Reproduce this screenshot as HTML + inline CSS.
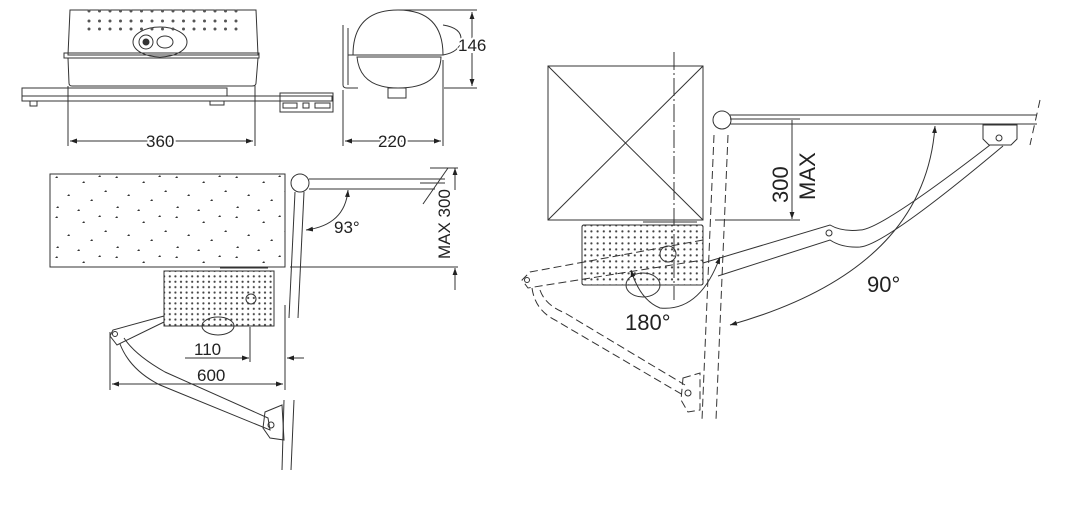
<!DOCTYPE html>
<html><head><meta charset="utf-8"><style>
html,body{margin:0;padding:0;background:#fff;}
svg{display:block;}
text{font-family:"Liberation Sans",sans-serif;fill:#222;}
</style></head><body>
<svg width="1066" height="513" viewBox="0 0 1066 513" xmlns="http://www.w3.org/2000/svg">
<defs>
<pattern id="dots" width="5.6" height="5.4" patternUnits="userSpaceOnUse" x="174" y="275">
<circle cx="1.4" cy="1.4" r="1.1" fill="#444"/></pattern>
<pattern id="dots2" width="6.2" height="6" patternUnits="userSpaceOnUse" x="590" y="230">
<circle cx="1.4" cy="1.4" r="1.1" fill="#444"/></pattern>
<pattern id="stucco" width="60" height="40" patternUnits="userSpaceOnUse" x="50" y="174">
<g fill="#333"><path d="M5,4 l2,-2 l1,2z"/><path d="M32,9 l2,-2 l1,2z"/><path d="M48,3 l2,-2 l1,2z"/><path d="M17,22 l2,-2 l1,2z"/><path d="M40,27 l2,-2 l1,2z"/><path d="M54,18 l2,-2 l1,2z"/><path d="M6,34 l2,-2 l1,2z"/><path d="M27,37 l2,-2 l1,2z"/></g></pattern>
<marker id="ar" viewBox="0 0 10 10" refX="10" refY="5" markerWidth="7" markerHeight="7" orient="auto-start-reverse"><path d="M0,1.5 L10,5 L0,8.5z" fill="#222"/></marker>
</defs>
<g fill="none" stroke="#333" stroke-width="1">
<!-- top view -->
<path d="M70,10 L256,10 L258,55 L68,55 Z" />
<rect x="64" y="53" width="195" height="5"/>
<path d="M68,58 L258,58 L256,83 Q256,86 252,86 L72,86 Q69,86 69,83 Z"/>
<ellipse cx="160" cy="42" rx="27" ry="15"/>
<circle cx="146" cy="42" r="7"/><circle cx="146" cy="42" r="3" fill="#333"/>
<ellipse cx="165" cy="42" rx="8" ry="6"/>
<rect x="22" y="88" width="205" height="8"/>
<rect x="22" y="96" width="310" height="5"/>
<rect x="280" y="93" width="53" height="19"/>
<rect x="283" y="103" width="14" height="5"/><rect x="303" y="103" width="6" height="5"/><rect x="315" y="103" width="15" height="5"/>
<rect x="30" y="101" width="7" height="5"/><rect x="210" y="101" width="14" height="4"/>
<g fill="#555" stroke="none">
<g id="r1"><circle cx="89" cy="11" r="1.5"/><circle cx="99.5" cy="11" r="1.5"/><circle cx="110" cy="11" r="1.5"/><circle cx="120.5" cy="11" r="1.5"/><circle cx="131" cy="11" r="1.5"/><circle cx="141.5" cy="11" r="1.5"/><circle cx="152" cy="11" r="1.5"/><circle cx="162.5" cy="11" r="1.5"/><circle cx="173" cy="11" r="1.5"/><circle cx="183.5" cy="11" r="1.5"/><circle cx="194" cy="11" r="1.5"/><circle cx="204.5" cy="11" r="1.5"/><circle cx="215" cy="11" r="1.5"/><circle cx="225.5" cy="11" r="1.5"/><circle cx="236" cy="11" r="1.5"/></g>
<use href="#r1" y="10"/><use href="#r1" y="18"/>
</g>
<!-- dims 360 -->
<line x1="68" y1="86" x2="68" y2="146"/><line x1="255" y1="86" x2="255" y2="146"/>
<line x1="70" y1="141" x2="253" y2="141" marker-start="url(#ar)" marker-end="url(#ar)"/>
<!-- side view -->
<path d="M343,25 L343,85 Q343,88 347,88 L358,88"/><line x1="348" y1="28" x2="348" y2="85"/>
<line x1="348" y1="55" x2="356" y2="55"/>
<path d="M353,55 Q353,10 398,10 Q443,10 443,55 Z"/>
<path d="M357,57 L441,57 Q440,88 398,88 Q360,88 357,57Z"/>
<path d="M443,25 Q462,28 461,40 Q460,52 443,55"/>
<rect x="388" y="88" width="18" height="10"/>
<line x1="398" y1="10" x2="477" y2="10"/><line x1="444" y1="88" x2="477" y2="88"/>
<line x1="472" y1="12" x2="472" y2="86" marker-start="url(#ar)" marker-end="url(#ar)"/>
<line x1="343" y1="90" x2="343" y2="146"/><line x1="443" y1="60" x2="443" y2="146"/>
<line x1="345" y1="141" x2="441" y2="141" marker-start="url(#ar)" marker-end="url(#ar)"/>
<!-- lower left -->
<rect x="50" y="174" width="235" height="93" fill="url(#stucco)"/>
<circle cx="300" cy="183" r="9"/>
<line x1="309" y1="179" x2="445" y2="179"/><line x1="309" y1="189" x2="435" y2="189"/>
<line x1="420" y1="183" x2="445" y2="183"/>
<line x1="423" y1="204" x2="448" y2="168"/>
<line x1="430" y1="168" x2="458" y2="168"/>
<line x1="290" y1="267" x2="458" y2="267"/>
<line x1="455" y1="168" x2="455" y2="190" marker-start="url(#ar)"/>
<line x1="455" y1="290" x2="455" y2="268" marker-end="url(#ar)"/>
<line x1="295" y1="192" x2="289" y2="318"/><line x1="304" y1="192" x2="298" y2="318"/>
<path d="M348,190 Q345,225 306,230" marker-start="url(#ar)" marker-end="url(#ar)"/>
<rect x="164" y="271" width="110" height="55" fill="url(#dots)"/>
<rect x="164" y="271" width="110" height="55"/>
<line x1="220" y1="268" x2="268" y2="268"/>
<circle cx="251" cy="299" r="5"/>
<ellipse cx="218" cy="326" rx="16" ry="9"/>
<path d="M164,316 L113,330 L110,336 L117,345 L164,322 M120,344 Q130,370 160,385 L270,430 L268,418 L165,372 Q135,355 124,338"/>
<circle cx="115" cy="334" r="2.5"/>
<path d="M265,412 L282,405 L284,440 L270,438 L263,428 Z"/>
<circle cx="271" cy="425" r="3"/>
<line x1="284" y1="400" x2="282" y2="470"/><line x1="294" y1="400" x2="291" y2="470"/>
<line x1="250" y1="327" x2="250" y2="362"/><line x1="285" y1="305" x2="285" y2="390"/>
<line x1="185" y1="358" x2="249" y2="358" marker-end="url(#ar)"/>
<line x1="304" y1="358" x2="287" y2="358" marker-end="url(#ar)"/>
<line x1="110" y1="332" x2="110" y2="390"/>
<line x1="112" y1="384" x2="283" y2="384" marker-start="url(#ar)" marker-end="url(#ar)"/>
<!-- right -->
<rect x="548" y="66" width="155" height="154"/>
<line x1="548" y1="66" x2="703" y2="220"/><line x1="703" y1="66" x2="548" y2="220"/>
<line x1="674" y1="52" x2="674" y2="300" stroke-dasharray="18,3,2,3"/>
<line x1="643" y1="222" x2="697" y2="222"/>
<circle cx="722" cy="120" r="9"/>
<line x1="730" y1="115" x2="1037" y2="115"/><line x1="730" y1="124" x2="1037" y2="124"/>
<line x1="730" y1="119" x2="800" y2="119"/>
<line x1="1040" y1="100" x2="1030" y2="145" stroke-dasharray="8,5"/>
<line x1="715" y1="220" x2="800" y2="220"/>
<line x1="792" y1="120" x2="792" y2="219" marker-end="url(#ar)"/>
<path d="M983,125 L1017,125 L1017,139 L1011,145 L989,145 L983,139 Z"/><circle cx="999" cy="138" r="3"/>
<rect x="582" y="225" width="121" height="60" rx="2" fill="url(#dots2)"/>
<rect x="582" y="225" width="121" height="60" rx="2"/>
<circle cx="668" cy="254" r="8"/>
<ellipse cx="643" cy="285" rx="17" ry="12"/>
<path d="M703,263 L830,225 Q842,232 860,230 Q880,230 990,145 M718,276 L830,240 Q842,248 860,247 Q885,245 1003,146"/>
<circle cx="829" cy="233" r="3"/>
<g stroke-dasharray="8,4">
<path d="M703,240 L530,272 L522,280 L528,288 L703,260"/>
<path d="M532,288 Q535,310 555,320 L683,395 M540,290 Q545,305 565,313 L685,385"/>
<path d="M683,378 L700,373 L700,410 L688,412 L681,400 Z"/>
<line x1="714" y1="135" x2="702" y2="420"/><line x1="728" y1="135" x2="716" y2="420"/>
</g>
<circle cx="527" cy="280" r="2.5"/><circle cx="688" cy="393" r="3"/>
<path d="M631,270 Q640,300 660,308 Q700,312 720,257" marker-start="url(#ar)" marker-end="url(#ar)"/>
<path d="M935,126 Q925,270 730,325" marker-start="url(#ar)" marker-end="url(#ar)"/>
</g>
<g font-size="17">
<text x="146" y="147" style="paint-order:stroke" stroke="#fff" stroke-width="4">360</text>
<text x="378" y="147" style="paint-order:stroke" stroke="#fff" stroke-width="4">220</text>
<text x="458" y="51" style="paint-order:stroke" stroke="#fff" stroke-width="4">146</text>
<text x="334" y="233">93°</text>
<text x="450" y="259" transform="rotate(-90 450 259)">MAX 300</text>
<text x="194" y="355">110</text>
<text x="197" y="381">600</text>
</g>
<g font-size="22">
<text x="625" y="330">180°</text>
<text x="867" y="292">90°</text>
<text x="788" y="203" transform="rotate(-90 788 203)">300</text>
<text x="815" y="200" transform="rotate(-90 815 200)">MAX</text>
</g>
</svg>
</body></html>
